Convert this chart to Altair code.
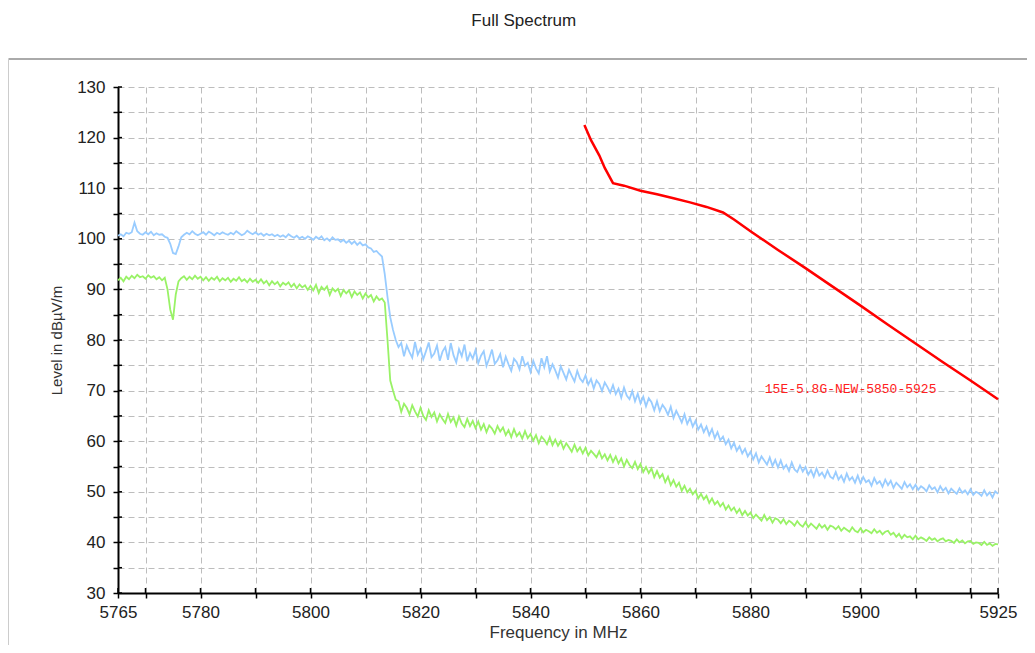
import altair as alt
import pandas as pd

# ---------------- data ----------------
FREQ_START = 5765.0
FREQ_STEP = 0.5

BLUE_LEVEL = [
    100.6, 100.9, 100.5, 101.2, 101.0, 101.3, 103.2, 101.5, 101.0, 100.8,
    101.3, 100.9, 101.4, 100.7, 101.1, 100.8, 100.9, 100.4, 100.2, 99.0,
    97.2, 97.0, 98.5, 100.3, 100.8, 101.2, 100.9, 101.5, 101.0, 100.7,
    101.0, 101.3, 100.8, 101.4, 101.1, 100.7, 101.2, 100.9, 101.3, 101.0,
    100.8, 101.2, 100.9, 101.5, 101.1, 100.7, 101.0, 101.6, 101.2, 100.9,
    101.3, 100.8, 101.1, 100.6, 101.0, 100.7, 100.9, 100.5, 100.8, 100.4,
    100.7, 100.3, 100.9, 100.5, 100.2, 100.6, 100.1, 100.4, 100.0, 100.5,
    100.2, 99.8, 100.4, 100.0, 100.5, 99.7, 100.1, 99.6, 100.3, 99.8,
    99.9, 99.4, 99.8, 99.2, 99.6, 99.0, 99.5, 98.8, 99.3, 98.7,
    98.9, 98.3, 98.1, 97.4, 97.6, 97.0, 96.5, 93.0, 88.5, 84.5,
    82.0, 80.0, 78.6, 79.4, 76.8, 78.9, 77.6, 76.5, 79.6, 77.1,
    78.3, 76.2, 77.8, 79.5, 76.6, 77.3, 78.9, 75.9, 77.7, 78.6,
    76.1, 79.4, 77.0, 75.6, 78.2, 76.8, 79.1, 75.8, 77.4, 76.3,
    78.0, 75.4, 76.9, 77.8, 74.9, 76.4, 78.1, 75.3, 76.0, 77.2,
    74.6, 76.7, 75.2, 73.9, 76.3, 75.6, 74.2, 76.8, 74.9, 75.5,
    73.7, 75.9, 74.4, 73.4, 76.4, 74.6, 76.8, 73.8, 75.2, 74.0,
    72.6, 74.8, 73.5, 72.2, 74.1, 72.9, 71.8, 73.9, 72.4, 71.7,
    73.0, 71.2, 72.3, 70.4, 72.0, 71.3, 69.9, 71.6, 70.7, 69.6,
    71.1, 69.3, 70.4, 68.6, 70.6, 69.0, 68.3, 69.9, 67.9, 69.4,
    67.5, 68.8, 66.9, 68.5, 67.7, 66.1, 67.9, 65.9, 67.2, 66.4,
    65.2, 66.8, 64.6, 66.0, 64.9, 63.7, 65.3, 63.4, 64.6, 62.9,
    64.0, 62.3, 63.3, 61.8, 62.9, 61.2, 62.4, 60.6, 61.8, 60.2,
    60.9, 59.4, 60.3, 58.6, 59.7, 58.1, 59.0, 57.6, 58.5, 57.0,
    57.9, 56.4, 57.6, 55.8, 57.0, 56.2, 55.4, 56.8, 55.1, 56.3,
    54.8, 56.2, 54.6, 55.3, 54.1, 55.8, 54.4, 53.9, 55.2, 54.0,
    54.9, 53.4, 54.3, 53.0, 54.6, 53.2, 53.8, 52.8, 54.2, 53.0,
    52.6, 53.9, 52.4, 53.2, 52.0, 53.6, 52.3, 52.9, 51.8, 53.2,
    51.7, 52.9, 51.9, 52.3, 51.2, 52.7, 51.6, 52.1, 51.0, 52.4,
    51.3, 52.2, 50.8, 51.8, 51.2, 50.6, 51.9, 50.9, 51.5, 50.5,
    51.4, 50.4, 51.1, 50.7, 50.1, 51.3, 50.5, 50.9, 49.9, 51.1,
    50.2, 50.8, 49.7, 50.6, 50.1, 49.6, 50.7, 49.8, 50.3, 49.5,
    50.5, 49.4, 50.0, 49.7, 49.2, 50.3, 49.3, 49.9, 48.9, 50.1,
    49.6,
]

GREEN_LEVEL = [
    91.8, 92.3, 91.6, 92.5, 92.0, 92.7, 92.2, 92.9, 92.4, 92.6,
    92.1, 92.8, 92.3, 92.6, 92.0, 92.4, 91.8, 92.3, 90.0, 86.0,
    84.0, 89.0, 91.6, 92.2, 92.6, 91.9, 92.5, 92.0, 92.7, 92.1,
    92.5, 91.8, 92.4, 91.7, 92.3, 91.9, 92.5, 91.6, 92.2, 91.8,
    92.3, 91.5, 92.1, 91.7, 92.4, 91.6, 92.0, 91.4, 92.1, 91.5,
    91.9, 91.3, 92.0, 91.2, 91.7, 90.8, 91.6, 91.0, 91.5, 90.6,
    91.3, 90.9, 91.4, 90.5, 91.1, 90.2, 91.0, 90.4, 90.8, 89.9,
    90.7, 89.8, 90.9, 89.3, 90.5, 89.9, 90.6, 88.9, 90.2, 89.6,
    90.1, 88.7, 89.9, 89.2, 89.8, 88.5, 89.6, 88.9, 89.4, 88.2,
    89.2, 88.4, 88.9, 87.6, 88.6, 87.9, 88.2, 87.4, 80.0, 72.0,
    70.0, 68.2, 67.9, 65.8, 67.4, 66.6, 65.3, 67.1, 65.9, 64.9,
    66.6, 65.0, 64.2, 66.1, 64.8, 65.7, 63.9, 65.3, 64.4, 63.6,
    65.4, 63.8, 64.7, 63.1, 64.9, 63.5, 62.8, 64.4, 63.0, 64.0,
    62.6, 63.9, 62.3, 63.4, 61.8, 63.1, 62.5, 61.5, 63.0, 61.9,
    62.7, 61.2, 62.2, 60.8, 62.4, 61.0, 61.7, 60.5, 62.0, 60.6,
    61.4, 60.1, 61.2, 59.6, 60.9, 60.3, 59.4, 60.8, 59.2, 60.3,
    59.1, 60.0, 58.5, 59.6, 58.8, 57.9, 59.3, 58.0, 58.8, 57.6,
    58.7, 57.2, 58.1, 57.5, 56.8, 58.0, 56.6, 57.4, 56.2, 57.3,
    55.9, 57.0, 55.6, 56.6, 55.0, 56.3, 55.3, 54.7, 55.9, 54.5,
    55.5, 53.9, 54.9, 53.7, 54.6, 52.9, 54.1, 52.8, 53.5, 51.9,
    53.0, 51.3, 52.3, 51.0, 51.8, 50.2, 51.2, 49.9, 50.6, 49.5,
    50.2, 48.7, 49.6, 48.5, 49.2, 47.8, 48.7, 47.5, 48.1, 47.1,
    47.8, 46.5, 47.3, 46.3, 46.9, 45.8, 46.6, 45.4, 46.2, 45.3,
    45.9, 44.8, 45.5, 44.9, 44.3, 45.4, 44.4, 45.0, 43.9, 44.8,
    44.5, 43.8, 44.6, 43.6, 44.3, 43.9, 43.3, 44.2, 43.5, 43.1,
    44.0, 43.0, 43.7, 43.2, 42.7, 43.6, 42.9, 43.4, 42.5, 43.3,
    43.1, 42.6, 43.2, 42.3, 42.9, 42.5, 42.1, 43.0, 42.3, 42.0,
    42.8, 42.0, 42.5, 42.2, 41.8, 42.6, 41.9, 42.3, 41.6, 42.1,
    42.3, 41.5, 41.9, 41.1, 41.7, 40.8, 41.5, 41.0, 41.2, 40.6,
    41.3, 40.6, 41.0, 40.7, 40.3, 41.0, 40.5, 40.8, 40.2, 40.6,
    40.8, 40.2, 40.5, 40.3, 39.9, 40.6, 40.0, 40.4, 39.8, 40.2,
    40.3, 39.7, 40.0, 39.9, 39.5, 40.1, 39.5, 39.8, 39.3, 39.7,
    39.6,
]

RED_FREQ = [5849.8, 5851.0, 5852.5, 5853.5, 5855.0, 5857.0, 5860.0, 5863.0,
            5866.0, 5869.0, 5872.0, 5875.0, 5877.0, 5880.0, 5885.0, 5890.0,
            5895.0, 5900.0, 5905.0, 5910.0, 5915.0, 5920.0, 5925.0]
RED_LEVEL = [122.5, 119.5, 116.5, 114.0, 111.0, 110.5, 109.5, 108.8,
             108.0, 107.2, 106.3, 105.2, 103.8, 101.5, 97.8, 94.2,
             90.5, 86.8, 83.0, 79.3, 75.6, 72.0, 68.3]

LIMIT_LABEL = "15E-5.8G-NEW-5850-5925"
LABEL_FREQ = [5882.6]
LABEL_LEVEL = [70.3]

X_TICKS = [5765, 5770, 5780, 5790, 5800, 5810, 5820, 5830, 5840, 5850,
           5860, 5870, 5880, 5890, 5900, 5910, 5920, 5925]
X_LABELS = [5765, 5780, 5800, 5820, 5840, 5860, 5880, 5900, 5925]
Y_TICKS = [30, 35, 40, 45, 50, 55, 60, 65, 70, 75, 80, 85, 90, 95, 100,
           105, 110, 115, 120, 125, 130]

# ---------------- tables ----------------
rows = []
for i, v in enumerate(BLUE_LEVEL):
    rows.append({"freq": FREQ_START + FREQ_STEP * i, "level": v, "series": "blue"})
for i, v in enumerate(GREEN_LEVEL):
    rows.append({"freq": FREQ_START + FREQ_STEP * i, "level": v, "series": "green"})
trace_df = pd.DataFrame(rows)
red_df = pd.DataFrame({"freq": RED_FREQ, "level": RED_LEVEL})
label_df = pd.DataFrame({"freq": LABEL_FREQ, "level": LABEL_LEVEL, "label": [LIMIT_LABEL]})
xt_df = pd.DataFrame({"freq": X_TICKS})
yt_df = pd.DataFrame({"level": Y_TICKS})
one_df = pd.DataFrame({"k": [0]})

W, H = 880, 506
FONT = "Liberation Sans"

common_axis = dict(
    grid=True, gridColor="#bdbdbd", gridDash=[6, 4], gridWidth=1,
    domainColor="black", domainWidth=2,
    tickColor="black", tickWidth=1.5, tickSize=5,
    labelFont=FONT, labelFontSize=17, labelColor="#222222",
    labelOverlap=False, labelFlush=False,
    titleFont=FONT, titleFontWeight="normal", titleColor="#333333",
    format="d",
)

x_enc = alt.X(
    "freq:Q",
    title="Frequency in MHz",
    scale=alt.Scale(domain=[5765, 5925], nice=False, zero=False),
    axis=alt.Axis(
        values=X_TICKS,
        labelExpr=f"indexof({X_LABELS}, datum.value) >= 0 ? datum.label : ''",
        labelPadding=6, titleFontSize=17, titlePadding=4,
        **common_axis,
    ),
)
y_enc = alt.Y(
    "level:Q",
    title="Level in dBµV/m",
    scale=alt.Scale(domain=[30, 130], nice=False, zero=False),
    axis=alt.Axis(
        values=Y_TICKS,
        labelExpr="datum.value % 10 == 0 ? datum.label : ''",
        labelPadding=8, titleFontSize=15, titlePadding=12,
        **common_axis,
    ),
)

traces = alt.Chart(trace_df).mark_line(strokeWidth=1.8).encode(
    x=x_enc, y=y_enc,
    color=alt.Color("series:N",
                    scale=alt.Scale(domain=["blue", "green"], range=["#99CCFF", "#99F266"]),
                    legend=None),
)
red = alt.Chart(red_df).mark_line(color="#FF0000", strokeWidth=2.5).encode(x=x_enc, y=y_enc)
label = alt.Chart(label_df).mark_text(
    align="left", baseline="middle", font="Liberation Mono", fontSize=13, color="#FF2020"
).encode(x=x_enc, y=y_enc, text="label:N")

x_inner = alt.Chart(xt_df).mark_rule(color="black", strokeWidth=1.5).encode(
    x=x_enc, y=alt.value(H), y2=alt.value(H - 5))
y_inner = alt.Chart(yt_df).mark_rule(color="black", strokeWidth=1.5).encode(
    y=y_enc, x=alt.value(0), x2=alt.value(4))

top_line = alt.Chart(one_df).mark_rule(color="#aaaaaa", strokeWidth=2).encode(
    x=alt.value(-109.5), x2=alt.value(W + 29), y=alt.value(-28))
left_line = alt.Chart(one_df).mark_rule(color="#cccccc", strokeWidth=1).encode(
    x=alt.value(-109.5), y=alt.value(-28), y2=alt.value(H + 52))

chart = alt.layer(
    traces, red, label, x_inner, y_inner, top_line, left_line
).properties(
    width=W, height=H,
    autosize=alt.AutoSizeParams(type="none"),
    padding={"left": 110, "top": 79, "right": 29, "bottom": 52},
    title=alt.TitleParams(
        "Full Spectrum", font=FONT, fontSize=17, fontWeight="normal",
        color="#222222", offset=28, anchor="middle", frame="bounds", dx=6,
    ),
).configure_view(stroke=None)

chart.save("out.html", embed_options={"renderer": "svg", "actions": False})
